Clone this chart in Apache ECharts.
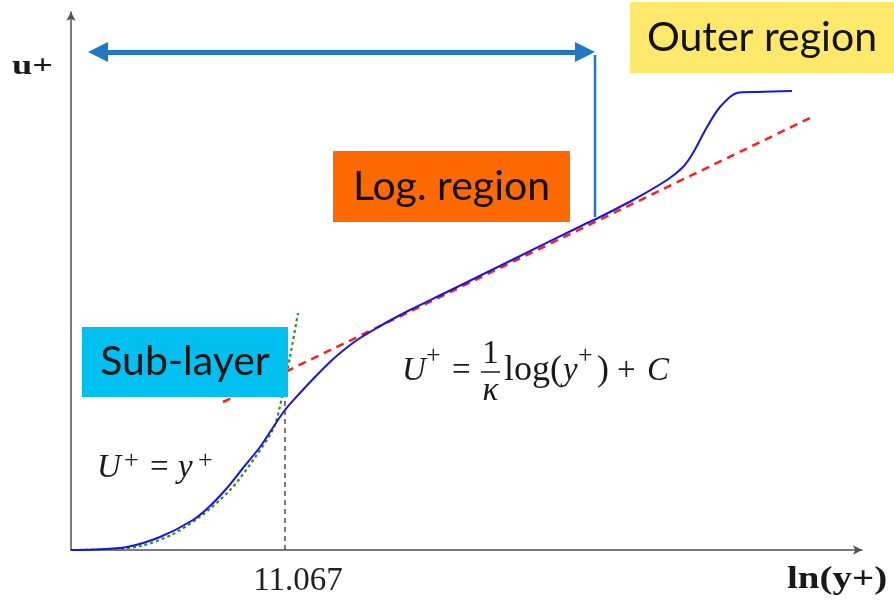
<!DOCTYPE html>
<html><head><meta charset="utf-8">
<script src="https://cdn.jsdelivr.net/npm/echarts@6/dist/echarts.min.js"></script>
<style>html,body{margin:0;padding:0;background:#fff}#c{width:894px;height:609px}</style>
</head><body><div id="c"></div>
<script>
// Values (abstract units: x along ln(y+), y along u+)
const velocityProfile = [[0,0],[22,0.5],[56,3],[89,13],[122,30],[139,44],[156,62],[172,82],[189,103],[201,121],[214,140],[229,157],[244,173],[259,188],[274,201],[289,212],[304,221],[319,229.5],[339,240],[376,258],[442,290.5],[509,323.5],[529,333],[562,350],[596,370],[612,383],[622,397],[636,423],[649,443],[666,457],[686,458],[721,459]];
const logLaw = [[152,148],[741,433]];
const linearLaw = [[2,0],[39,0.5],[70,4],[100,15],[130,34],[160,61],[185,94],[203,123],[211,153],[219,193],[227,237]];
const yPlusMark = [[214,0],[214,152]];
const spanArrow = [[27,498],[514,498]];
const spanDrop = [[524,495],[524,333]];
const tickValues = [214];
const tickLabels = ['11.067'];
const axisNames = ['ln(y+)', 'u+'];
const regionLabels = ['Sub-layer', 'Log. region', 'Outer region'];

const chart = echarts.init(document.getElementById('c'), null, {renderer: 'canvas'});

function box(x, y, w, h, color, label) {
  return {type: 'group', z: 100, children: [
    {type: 'rect', z: 100, shape: {x: x, y: y, width: w, height: h}, style: {fill: color}},
    {type: 'text', z: 101, x: x + w / 2, y: y + h / 2,
      style: {text: label, font: '41px Lato', fill: '#111', align: 'center', verticalAlign: 'middle', textAlign: 'center', textVerticalAlign: 'middle'}}
  ]};
}
function txt(x, y, s, font, extra) {
  return Object.assign({type: 'text', z: 100, x: x, y: y,
    style: {text: s, font: font, fill: '#1a1a1a', align: 'left', verticalAlign: 'middle', textAlign: 'left', textVerticalAlign: 'middle'}}, extra || {});
}
const F = '33px "Liberation Serif"';
const FL = '36px "Liberation Serif"';
const FI = 'italic 33px "Liberation Serif"';
const FS = '26px "Liberation Serif"';

const option = {
  animation: false,
  backgroundColor: '#fff',
  grid: {left: 71, right: 32, top: 12, bottom: 59},
  xAxis: {
    type: 'value', min: 0, max: 791,
    splitLine: {show: false},
    axisTick: {show: false},
    axisLine: {lineStyle: {color: '#505050', width: 1.5}, symbol: ['none', 'arrow'], symbolSize: [7, 9]},
    axisLabel: {
      customValues: tickValues,
      formatter: function (v) { const i = tickValues.indexOf(v); return i >= 0 ? tickLabels[i] : ''; },
      margin: 15, color: '#222', fontFamily: 'Liberation Serif', fontSize: 33, padding: [0, 0, 0, 26]
    }
  },
  yAxis: {
    type: 'value', min: 0, max: 538,
    splitLine: {show: false},
    axisTick: {show: false},
    axisLabel: {show: false},
    axisLine: {show: true, lineStyle: {color: '#505050', width: 1.5}, symbol: ['none', 'arrow'], symbolSize: [7, 9]}
  },
  series: [
    {name: 'Linear law', type: 'line', data: linearLaw, smooth: 0.3, showSymbol: false, z: 3,
      lineStyle: {color: '#2E8B2E', width: 2.2, type: [3, 3]}},
    {name: 'Velocity profile', type: 'line', data: velocityProfile, smooth: 0.3, showSymbol: false, z: 4,
      lineStyle: {color: '#1616E0', width: 2}},
    {name: 'Log law', type: 'line', data: logLaw, showSymbol: false, z: 3,
      lineStyle: {color: '#FF1E1E', width: 2.5, type: [8, 6]}},
    {name: 'y+ mark', type: 'line', data: yPlusMark, showSymbol: false, z: 2,
      lineStyle: {color: '#333', width: 1.3, type: [5, 4]}},
    {name: 'Span', type: 'line', data: spanDrop, showSymbol: false, z: 5,
      lineStyle: {color: '#1F78C1', width: 2.5},
      markLine: {silent: true, symbol: ['triangle', 'triangle'], symbolSize: 20,
        lineStyle: {color: '#1F78C1', width: 5, type: 'solid'},
        label: {show: false},
        data: [[{coord: spanArrow[0]}, {coord: spanArrow[1]}]]}}
  ],
  graphic: [
    box(82, 327, 206, 70, '#00C0F0', regionLabels[0]),
    box(333, 151, 237, 71, '#FF6A00', regionLabels[1]),
    box(630, 2, 264, 71, '#FFE86A', regionLabels[2]),
    // axis names
    {type: 'text', z: 100, x: 12, y: 67, scaleX: 1.3,
      style: {text: axisNames[1], font: 'bold 28px "Liberation Serif"', fill: '#1a1a1a', align: 'left', verticalAlign: 'middle', textAlign: 'left', textVerticalAlign: 'middle'}},
    {type: 'text', z: 100, x: 787, y: 580, scaleX: 1.22,
      style: {text: axisNames[0], font: 'bold 32px "Liberation Serif"', fill: '#1a1a1a', align: 'left', verticalAlign: 'middle', textAlign: 'left', textVerticalAlign: 'middle'}},
    // formula 1: U+ = y+
    txt(97, 468.5, 'U', FI),
    txt(124, 461, '+', FS),
    txt(150, 468.5, '=', F),
    txt(178, 468.5, 'y', FI),
    txt(198, 461, '+', FS),
    // formula 2: U+ = (1/k) log(y+) + C
    txt(402, 371.5, 'U', FI),
    txt(426, 356, '+', FS),
    txt(452, 371.5, '=', F),
    {type: 'text', z: 100, x: 490.5, y: 354.5, style: {text: '1', font: F, fill: '#1a1a1a', align: 'center', verticalAlign: 'middle', textAlign: 'center', textVerticalAlign: 'middle'}},
    {type: 'line', z: 100, shape: {x1: 481, y1: 372, x2: 500, y2: 372}, style: {stroke: '#1a1a1a', lineWidth: 1.5}},
    {type: 'text', z: 100, x: 490.5, y: 391.5, style: {text: 'κ', font: FI, fill: '#1a1a1a', align: 'center', verticalAlign: 'middle', textAlign: 'center', textVerticalAlign: 'middle'}},
    txt(504, 370.5, 'log(', FL),
    txt(563, 371.5, 'y', FI),
    txt(578, 356, '+', FS),
    txt(597, 370.5, ')', FL),
    txt(617, 371.5, '+', F),
    txt(647, 371.5, 'C', FI)
  ]
};
chart.setOption(option);
</script></body></html>
